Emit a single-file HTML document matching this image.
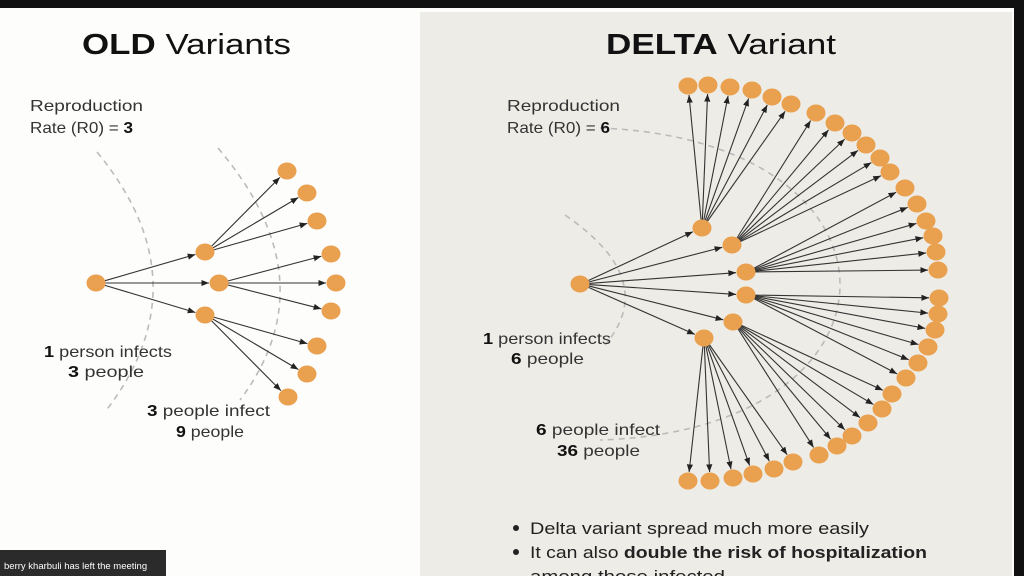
<!DOCTYPE html>
<html><head><meta charset="utf-8"><style>
html,body{margin:0;padding:0;width:1024px;height:576px;overflow:hidden;background:#fff;font-family:"Liberation Sans",sans-serif}
svg{position:absolute;left:0;top:0}
</style></head><body>
<svg id="s" width="1024" height="576" viewBox="0 0 1024 576" xmlns="http://www.w3.org/2000/svg">
<defs><marker id="a" viewBox="0 0 10 10" refX="10" refY="5" markerWidth="7" markerHeight="7" orient="auto"><path d="M0,1 L10,5 L0,9 z" fill="#222"/></marker></defs>
<rect x="0" y="0" width="1024" height="576" fill="#fdfdfc"/>
<rect x="420" y="12" width="592" height="564" fill="#eeece6"/>
<rect x="0" y="0" width="1024" height="8" fill="#111"/>
<rect x="1014" y="0" width="10" height="576" fill="#111"/>
<g fill="none" stroke="#bbb" stroke-width="1.6" stroke-dasharray="6,5">
<path d="M97,152 Q205,283 105,412"/>
<path d="M218,148 Q330,280 240,400"/>
<path d="M565,215 Q660,280 605,345"/>
<path d="M600,128 C920,140 920,430 600,440"/>
</g>
<g id="lines" stroke="#333" stroke-width="1.1" marker-end="url(#a)"></g>
<g id="nodes" fill="#e9a04f"></g>
<g font-size="29" fill="#111" lengthAdjust="spacingAndGlyphs">
<text x="82" y="54" textLength="209" lengthAdjust="spacingAndGlyphs"><tspan font-weight="bold">OLD</tspan> Variants</text>
<text x="606" y="54" textLength="230" lengthAdjust="spacingAndGlyphs"><tspan font-weight="bold">DELTA</tspan> Variant</text>
</g>
<g font-size="16" fill="#333">
<text x="30" y="111" textLength="113" lengthAdjust="spacingAndGlyphs">Reproduction</text>
<text x="30" y="133" textLength="103" lengthAdjust="spacingAndGlyphs">Rate (R0) = <tspan font-weight="bold" fill="#111">3</tspan></text>
<text x="507" y="111" textLength="113" lengthAdjust="spacingAndGlyphs">Reproduction</text>
<text x="507" y="133" textLength="103" lengthAdjust="spacingAndGlyphs">Rate (R0) = <tspan font-weight="bold" fill="#111">6</tspan></text>
<text x="44" y="357" textLength="128" lengthAdjust="spacingAndGlyphs"><tspan font-weight="bold" fill="#111">1</tspan> person infects</text>
<text x="68" y="377" textLength="76" lengthAdjust="spacingAndGlyphs"><tspan font-weight="bold" fill="#111">3</tspan> people</text>
<text x="147" y="416" textLength="123" lengthAdjust="spacingAndGlyphs"><tspan font-weight="bold" fill="#111">3</tspan> people infect</text>
<text x="176" y="437" textLength="68" lengthAdjust="spacingAndGlyphs"><tspan font-weight="bold" fill="#111">9</tspan> people</text>
<text x="483" y="344" textLength="128" lengthAdjust="spacingAndGlyphs"><tspan font-weight="bold" fill="#111">1</tspan> person infects</text>
<text x="511" y="364" textLength="73" lengthAdjust="spacingAndGlyphs"><tspan font-weight="bold" fill="#111">6</tspan> people</text>
<text x="536" y="435" textLength="124" lengthAdjust="spacingAndGlyphs"><tspan font-weight="bold" fill="#111">6</tspan> people infect</text>
<text x="557" y="456" textLength="83" lengthAdjust="spacingAndGlyphs"><tspan font-weight="bold" fill="#111">36</tspan> people</text>
</g>
<g font-size="17" fill="#222">
<circle cx="516" cy="528" r="3" fill="#222"/>
<text x="530" y="534" textLength="339" lengthAdjust="spacingAndGlyphs">Delta variant spread much more easily</text>
<circle cx="516" cy="552" r="3" fill="#222"/>
<text x="530" y="558" textLength="397" lengthAdjust="spacingAndGlyphs">It can also <tspan font-weight="bold">double the risk of hospitalization</tspan></text>
<text x="530" y="582" textLength="195" lengthAdjust="spacingAndGlyphs">among those infected</text>
</g>
<rect x="0" y="550" width="166" height="26" fill="#2b2b2b"/>
<text x="4" y="569" font-size="9.5" fill="#fff">berry kharbuli has left the meeting</text>
</svg>
<script>
var L=document.getElementById('lines'),N=document.getElementById('nodes'),ns='http://www.w3.org/2000/svg';
function node(x,y){var e=document.createElementNS(ns,'ellipse');e.setAttribute('cx',x);e.setAttribute('cy',y);e.setAttribute('rx',9.5);e.setAttribute('ry',8.5);N.appendChild(e);}
function line(p,q){var dx=q[0]-p[0],dy=q[1]-p[1],d=Math.hypot(dx,dy);var e=document.createElementNS(ns,'line');
e.setAttribute('x1',p[0]+dx/d*9);e.setAttribute('y1',p[1]+dy/d*8);e.setAttribute('x2',q[0]-dx/d*10);e.setAttribute('y2',q[1]-dy/d*9);L.appendChild(e);}
function tree(c,mid,outer){var k=outer.length/mid.length;mid.forEach(function(m,i){line(c,m);for(var j=0;j<k;j++)line(m,outer[i*k+j]);});
node(c[0],c[1]);mid.forEach(function(m){node(m[0],m[1])});outer.forEach(function(o){node(o[0],o[1])});}
tree([96,283],[[205,252],[219,283],[205,315]],[[287,171],[307,193],[317,221],[331,254],[336,283],[331,311],[317,346],[307,374],[288,397]]);
tree([580,284],[[702,228],[732,245],[746,272],[746,295],[733,322],[704,338]],
[[688,86],[708,85],[730,87],[752,90],[772,97],[791,104],[816,113],[835,123],[852,133],[866,145],[880,158],[890,172],[905,188],[917,204],[926,221],[933,236],[936,252],[938,270],[939,298],[938,314],[935,330],[928,347],[918,363],[906,378],[892,394],[882,409],[868,423],[852,436],[837,446],[819,455],[793,462],[774,469],[753,474],[733,478],[710,481],[688,481]]);
</script>
</body></html>
